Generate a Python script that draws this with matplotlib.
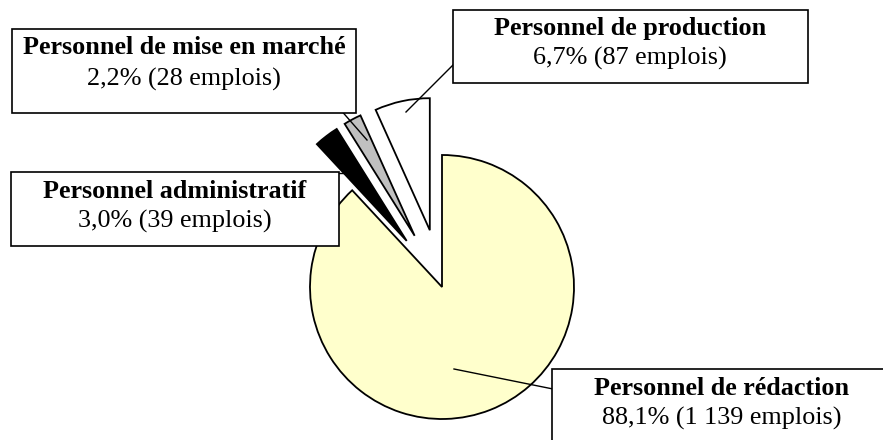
import matplotlib
matplotlib.use("Agg")
import matplotlib.pyplot as plt
from matplotlib.patches import Rectangle

# data, clockwise from 12 o'clock
categories = ["Personnel de rédaction", "Personnel administratif",
              "Personnel de mise en marché", "Personnel de production"]
emplois = [1139, 39, 28, 87]
colors = ["#FFFFCC", "#000000", "#C0C0C0", "#FFFFFF"]
explode_frac = [0, 0.44, 0.44, 0.44]

W, H = 883, 440
def Y(py):
    return H - py

fig = plt.figure(figsize=(W / 100, H / 100), dpi=100)
ax = fig.add_axes([0, 0, 1, 1])

radius = 132
# pie explode is in data units, so scale by the radius
explode = [e * radius for e in explode_frac]
ax.pie(emplois, colors=colors, explode=explode, startangle=90, counterclock=False,
       radius=radius, center=(442, Y(287)), frame=True,
       wedgeprops=dict(edgecolor="black", linewidth=1.3))

ax.set_xlim(0, W)
ax.set_ylim(0, H)
ax.set_aspect("equal")
ax.axis("off")

total = sum(emplois)

def fmt_count(n):
    return "{:,}".format(n).replace(",", " ")

# label boxes: (x0, y0, x1, y1) in pixels, text center x, bold baseline, regular baseline
boxes = [
    ((552, 369, 900, 452), 722, 395, 425),
    ((11, 172, 339, 246), 175, 198, 228),
    ((12, 29, 356, 113), 184, 54, 86),
    ((453, 10, 808, 83), 630, 35, 65),
]
leaders = [
    [(454, 369), (553, 389)],
    [(332, 173), (350, 173)],
    [(332, 100), (367, 140)],
    [(453, 65), (406, 112)],
]

for i, cat in enumerate(categories):
    (x0, y0, x1, y1), cx, b1, b2 = boxes[i]
    (lx0, ly0), (lx1, ly1) = leaders[i]
    ax.plot([lx0, lx1], [Y(ly0), Y(ly1)], color="black", linewidth=1.0, zorder=3)
    ax.add_patch(Rectangle((x0, Y(y1)), x1 - x0, y1 - y0, facecolor="white",
                           edgecolor="black", linewidth=1.2, zorder=4))
    pct = "{:.1f}".format(emplois[i] / total * 100).replace(".", ",")
    ax.text(cx, Y(b1), cat, ha="center", va="baseline", fontsize=18.8,
            fontweight="bold", family="Liberation Serif", zorder=5)
    ax.text(cx, Y(b2), pct + "% (" + fmt_count(emplois[i]) + " emplois)",
            ha="center", va="baseline", fontsize=18.8,
            family="Liberation Serif", zorder=5)

fig.savefig("out.png", dpi=100)
